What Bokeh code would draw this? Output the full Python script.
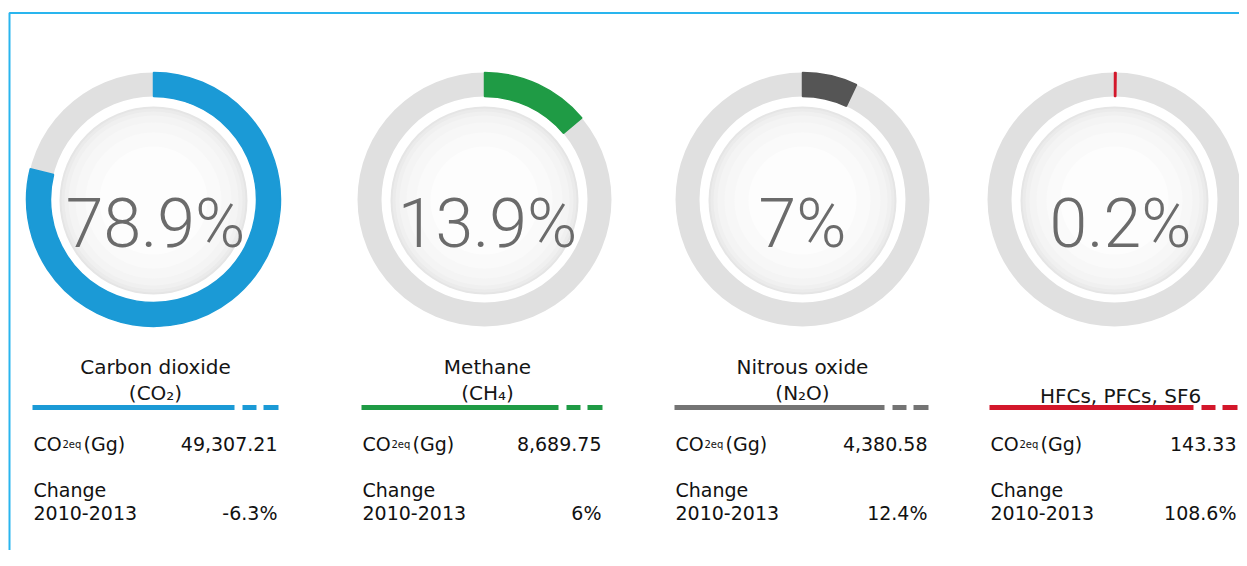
import math
from bokeh.plotting import figure
from bokeh.models import Range1d
from bokeh.embed import file_html
from bokeh.resources import INLINE
from bokeh.core.properties import value

# ---------------- data ----------------
gases = ["Carbon dioxide", "Methane", "Nitrous oxide", "HFCs, PFCs, SF6"]
formulas = ["(CO₂)", "(CH₄)", "(N₂O)", ""]
shares = [78.9, 13.9, 7.0, 0.2]
share_labels = ["78.9%", "13.9%", "7%", "0.2%"]
emissions = ["49,307.21", "8,689.75", "4,380.58", "143.33"]
changes = ["-6.3%", "6%", "12.4%", "108.6%"]
row_label_1 = "CO"
row_label_1_sub = "2eq"
row_label_1_unit = "(Gg)"
row_label_2a = "Change"
row_label_2b = "2010-2013"

# ---------------- style / layout ----------------
arc_colors = ["#1b9ad6", "#1f9b45", "#555555", "#d3172b"]
rule_colors = ["#1b9ad6", "#1f9b45", "#747474", "#d3172b"]
ring_grey = "#e0e0e0"
donut_cx = [153, 484, 802, 1114]
label_cx = [155, 487, 802, 1120]
table_left = [33, 362, 675, 990]
table_right = [277, 601, 927, 1236]
cy = 199
R_OUT, R_IN = 127, 103

W, H = 1239, 550
OX, OY = 0, 0

p = figure(width=W, height=H, x_range=Range1d(OX, OX + W), y_range=Range1d(OY + H, OY),
           output_backend="svg", toolbar_location=None, min_border=0,
           x_axis_location=None, y_axis_location=None)
p.grid.visible = False
p.outline_line_color = None
p.background_fill_color = "white"
p.border_fill_color = "white"

# frame
p.quad(left=9, right=OX + W + 30, top=12.5, bottom=OY + H + 30,
       fill_color=None, line_color="#29b5ee", line_width=2)

n = len(gases)
cys = [cy] * n

# inner disk with soft radial shading
disk_steps = [(94, "#e5e5e5"), (92, "#ebebeb"), (89, "#f0f0f0"), (85, "#f4f4f4"),
              (78, "#f7f7f7"), (68, "#fafafa"), (54, "#fdfdfd")]
for r, c in disk_steps:
    p.circle(x=donut_cx, y=[cy + 1] * n, radius=r, radius_units="screen",
             fill_color=c, line_color=None)

# grey ring
p.annulus(x=donut_cx, y=cys, inner_radius=R_IN, outer_radius=R_OUT,
          inner_radius_units="screen", outer_radius_units="screen",
          fill_color=ring_grey, line_color=None)

# coloured share arcs, clockwise from 12 o'clock
starts = [math.pi / 2 - 2 * math.pi * s / 100.0 for s in shares]
ends = [math.pi / 2] * n
p.annular_wedge(x=donut_cx, y=cys, inner_radius=R_IN, outer_radius=R_OUT,
                inner_radius_units="screen", outer_radius_units="screen",
                start_angle=starts, end_angle=ends,
                fill_color=arc_colors, line_color=arc_colors, line_width=1.5)

# big percentage
p.text(x=label_cx, y=[223] * n, text=share_labels,
       text_font=value("Roboto Light, Roboto"), text_font_size="68px",
       text_color="#6b6b6b", text_align="center", text_baseline="alphabetic")

# gas names
name_y = [366 if f else 395 for f in formulas]
p.text(x=label_cx, y=name_y, text=gases, text_font=value("DejaVu Sans"),
       text_font_size="20px", text_color="#151515", text_align="center",
       text_baseline="alphabetic")
fx = [label_cx[i] for i in range(n) if formulas[i]]
ft = [f for f in formulas if f]
p.text(x=fx, y=[392] * len(ft), text=ft, text_font=value("DejaVu Sans"),
       text_font_size="20px", text_color="#151515", text_align="center",
       text_baseline="alphabetic")

# coloured rule with two dashes
ly = [407] * n
p.segment(x0=[l - 1 for l in table_left], y0=ly, x1=[r - 43 for r in table_right], y1=ly,
          line_color=rule_colors, line_width=5)
p.segment(x0=[r - 35 for r in table_right], y0=ly, x1=[r - 21 for r in table_right], y1=ly,
          line_color=rule_colors, line_width=5)
p.segment(x0=[r - 14 for r in table_right], y0=ly, x1=[r + 1 for r in table_right], y1=ly,
          line_color=rule_colors, line_width=5)

# table
tf = value("DejaVu Sans")
tc = "#111111"
p.text(x=table_left, y=[443] * n, text=[row_label_1] * n, text_font=tf,
       text_font_size="19px", text_color=tc, text_baseline="alphabetic")
p.text(x=[l + 29 for l in table_left], y=[444] * n, text=[row_label_1_sub] * n, text_font=tf,
       text_font_size="10px", text_color=tc, text_baseline="alphabetic")
p.text(x=[l + 50 for l in table_left], y=[443] * n, text=[row_label_1_unit] * n, text_font=tf,
       text_font_size="19px", text_color=tc, text_baseline="alphabetic")
p.text(x=table_right, y=[443] * n, text=emissions, text_font=tf,
       text_font_size="19px", text_color=tc, text_align="right", text_baseline="alphabetic")
p.text(x=table_left, y=[489] * n, text=[row_label_2a] * n, text_font=tf,
       text_font_size="19px", text_color=tc, text_baseline="alphabetic")
p.text(x=table_left, y=[512] * n, text=[row_label_2b] * n, text_font=tf,
       text_font_size="19px", text_color=tc, text_baseline="alphabetic")
p.text(x=table_right, y=[512] * n, text=changes, text_font=tf,
       text_font_size="19px", text_color=tc, text_align="right", text_baseline="alphabetic")

open("out.html", "w").write(file_html(p, INLINE))
